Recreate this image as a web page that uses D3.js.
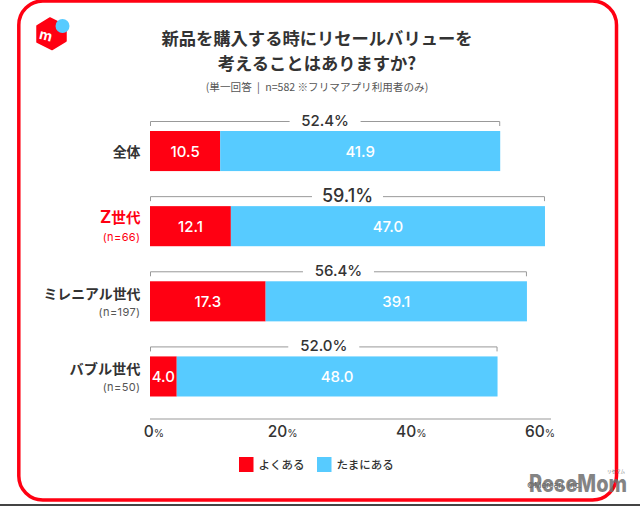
<!DOCTYPE html>
<html><head><meta charset="utf-8">
<style>html,body{margin:0;padding:0;background:#fff}svg{display:block}</style>
<script src="https://cdn.jsdelivr.net/npm/d3@7/dist/d3.min.js"></script></head>
<body><div id="c"></div>
<script>
const categories=["全体","Z世代","ミレニアル世代","バブル世代"];
const subLabels=["","(n=66)","(n=197)","(n=50)"];
const often=[10.5,12.1,17.3,4.0];
const sometimes=[41.9,47.0,39.1,48.0];
const totals=["52.4%","59.1%","56.4%","52.0%"];
const totalVals=[52.4,59.1,56.4,52.0];
const seriesNames=["よくある","たまにある"];
const ticks=[0,20,40,60];
const titleLines=["新品を購入する時にリセールバリューを","考えることはありますか?"];
const subtitle="(単一回答\u2002|\u2002n=582 ※フリマアプリ利用者のみ)";
const RED="#ff0012",BLUE="#57cbff",DARK="#333",JP="'Noto Sans CJK JP'",NUM="'Inter','Noto Sans CJK JP'";
const svg=d3.select("#c").append("svg").attr("width",640).attr("height",506);
const x=d3.scaleLinear().domain([0,60]).range([150,551]);
const tickX=d3.scaleLinear().domain([0,60]).range([154,540]);
const y=d3.scaleBand().domain(categories).range([113.5,414]).paddingInner(0.4667).paddingOuter(0.233);
const txt=(s,px,py,size,weight,fill,anchor="middle",font=JP)=>svg.append("text").attr("x",px).attr("y",py).attr("font-size",size).attr("font-weight",weight).attr("fill",fill).attr("text-anchor",anchor).attr("font-family",font).text(s);
svg.append("rect").attr("x",0).attr("y",504).attr("width",640).attr("height",2).attr("fill","#444");
svg.append("rect").attr("x",18.8).attr("y",1).attr("width",597.7).attr("height",499).attr("rx",24).attr("fill","#fff").attr("stroke",RED).attr("stroke-width",3.5);
// logo
svg.append("path").attr("d","M50 18 L66 26 V41 L52 49.5 L37 42 V26 Z").attr("fill",RED).attr("stroke",RED).attr("stroke-width",1.5).attr("stroke-linejoin","round");
svg.append("circle").attr("cx",62.5).attr("cy",26).attr("r",7).attr("fill",BLUE);
svg.append("text").attr("transform","translate(38.5,38.5) rotate(14)").attr("font-size",14).attr("font-weight",700).attr("fill","#fff").attr("font-family","'Inter'").text("m");
titleLines.forEach((t,i)=>txt(t,317,45+i*24.5,17.3,700,DARK));
txt(subtitle,317,91,10.6,400,"#555");
categories.forEach((c,i)=>{
 const by=y(c),bh=y.bandwidth(),cy=by+bh/2,end=x(totalVals[i]);
 svg.append("rect").attr("x",x(0)).attr("y",by).attr("width",x(often[i])-x(0)).attr("height",bh).attr("fill",RED);
 svg.append("rect").attr("x",x(often[i])).attr("y",by).attr("width",x(often[i]+sometimes[i])-x(often[i])).attr("height",bh).attr("fill",BLUE);
 txt(often[i].toFixed(1),(x(0)+x(often[i]))/2,cy+5.5,15,500,"#fff","middle",NUM);
 txt(sometimes[i].toFixed(1),(x(often[i])+x(often[i]+sometimes[i]))/2,cy+5.5,15,500,"#fff","middle",NUM);
 const mid=(x(0)+end)/2,big=i==1,gap=35.5,ly=by-10;
 svg.append("path").attr("fill","none").attr("stroke","#999").attr("stroke-width",1).attr("d",`M${x(0)+.5} ${ly+5}V${ly+.5}H${mid-gap}M${mid+gap} ${ly+.5}H${end-.5}V${ly+5}`);
 txt(totals[i],mid,ly+(big?6:5),big?18:15,500,DARK,"middle",NUM);
 const sub=subLabels[i];
 if(i==1){
  const t=txt("",140.5,cy-3,14,700,RED,"end");
  t.append("tspan").attr("font-family","'Inter'").attr("font-size",17).text(c[0]);
  t.append("tspan").attr("font-size",14.6).text(c.slice(1));
 } else txt(c,140.5,sub?cy-2.5:cy+6,i==3?14.2:13.9,700,DARK,"end");
 if(sub)txt(sub,140.5,cy+15,11,400,i==1?RED:"#555","end",NUM).attr("letter-spacing",.4);
});
svg.append("line").attr("x1",x(0)).attr("x2",x(60)).attr("y1",419).attr("y2",419).attr("stroke","#999").attr("stroke-width",1.2);
ticks.forEach(t=>{
 const g=svg.append("text").attr("x",tickX(t)).attr("y",437).attr("text-anchor","middle").attr("font-family",NUM).attr("fill",DARK);
 g.append("tspan").attr("font-size",15.5).attr("font-weight",500).text(t);
 g.append("tspan").attr("font-size",10.5).text("%");
});
[[239,0],[317,1]].forEach(([lx,i])=>{
 svg.append("rect").attr("x",lx).attr("y",457).attr("width",14.5).attr("height",15).attr("fill",i?BLUE:RED);
 txt(seriesNames[i],lx+19.5,469,11.5,500,DARK,"start");
});
txt("©Mercari, Inc.",527,488,8,400,"#555","start","'Inter'");
txt("ReseMom",529,492,24,800,"#6f6f6f","start","'Inter'").attr("opacity",.85).attr("textLength",98).attr("lengthAdjust","spacingAndGlyphs");
txt("リセマム",616,473,4.5,400,"#777");
</script></body></html>
